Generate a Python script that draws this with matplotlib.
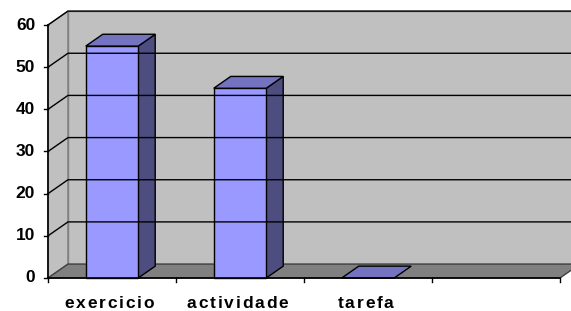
import numpy as np
import matplotlib.pyplot as plt
from matplotlib.patches import Polygon

# Data
categories = ["exercicio", "actividade", "tarefa", ""]
values = [55, 45, 0, np.nan]
yticks = [0, 10, 20, 30, 40, 50, 60]

# 3D look (data units)
DX, DY = 0.156, 3.3          # wall depth offset
BAR_W = 0.41
BAR_D = 0.85                 # bar depth as fraction of wall depth
YMAX = 60
FONT = dict(fontsize=12.5, fontweight="bold", family="Liberation Sans")

fig = plt.figure(figsize=(5.71, 3.11), dpi=100)
ax = fig.add_axes([0, 0, 1, 1])
ax.set_xlim(-0.875, 3.586)
ax.set_ylim(-7.83, 65.93)
ax.set_axis_off()
renderer = fig.canvas.get_renderer()


def spaced_text(x, y, s, gap=1.8):
    # draw characters one by one with extra tracking (pixels), centred on x
    if not s:
        return
    cx, cy = ax.transData.transform((x, y))
    widths = []
    for ch in s:
        t = ax.text(0, 0, ch, **FONT)
        widths.append(t.get_window_extent(renderer).width)
        t.remove()
    total = sum(widths) + gap * (len(s) - 1)
    px = cx - total / 2
    inv = ax.transData.inverted()
    for ch, w in zip(s, widths):
        dx, dy = inv.transform((px, cy))
        ax.text(dx, dy, ch, ha="left", va="center", **FONT)
        px += w + gap


n = len(categories)
x0, x1 = -0.5, n - 0.5

# walls
ax.add_patch(Polygon([(x0, 0), (x0 + DX, DY), (x0 + DX, YMAX + DY), (x0, YMAX)],
                     fc="#c0c0c0", ec="#808080", lw=1))
ax.add_patch(Polygon([(x0 + DX, DY), (x1 + DX, DY), (x1 + DX, YMAX + DY), (x0 + DX, YMAX + DY)],
                     fc="#c0c0c0", ec="#808080", lw=1))
ax.add_patch(Polygon([(x0, 0), (x1, 0), (x1 + DX, DY), (x0 + DX, DY)],
                     fc="#808080", ec="#404040", lw=1))

# gridlines and axes
for t in yticks[1:]:
    ax.plot([x0, x0 + DX, x1 + DX], [t, t + DY, t + DY], color="black", lw=1)
    ax.plot([x0 - 0.03, x0], [t, t], color="black", lw=1)
ax.plot([x0 - 0.03, x0], [0, 0], color="black", lw=1)
ax.plot([x0, x0], [0, YMAX], color="black", lw=1.2)
ax.plot([x0, x1], [0, 0], color="black", lw=1.2)
for i in range(n + 1):
    ax.plot([i - 0.5, i - 0.5], [0, -1.0], color="black", lw=1)

for t in yticks:
    ax.text(x0 - 0.1, t, str(t), ha="right", va="center", **FONT)

# bars
bd_x, bd_y = DX * BAR_D, DY * BAR_D
for i, (c, v) in enumerate(zip(categories, values)):
    spaced_text(i - 0.02, -6.0, c)
    if np.isnan(v):
        continue
    l, r = i - BAR_W / 2, i + BAR_W / 2
    if v > 0:
        ax.add_patch(Polygon([(r, 0), (r + bd_x, bd_y), (r + bd_x, v + bd_y), (r, v)],
                             fc="#4d4d80", ec="black", lw=1))
        ax.add_patch(Polygon([(l, 0), (r, 0), (r, v), (l, v)],
                             fc="#9999ff", ec="black", lw=1))
    ax.add_patch(Polygon([(l, v), (r, v), (r + bd_x, v + bd_y), (l + bd_x, v + bd_y)],
                         fc="#7373bf", ec="black", lw=1))

fig.savefig("out.png", dpi=100)
